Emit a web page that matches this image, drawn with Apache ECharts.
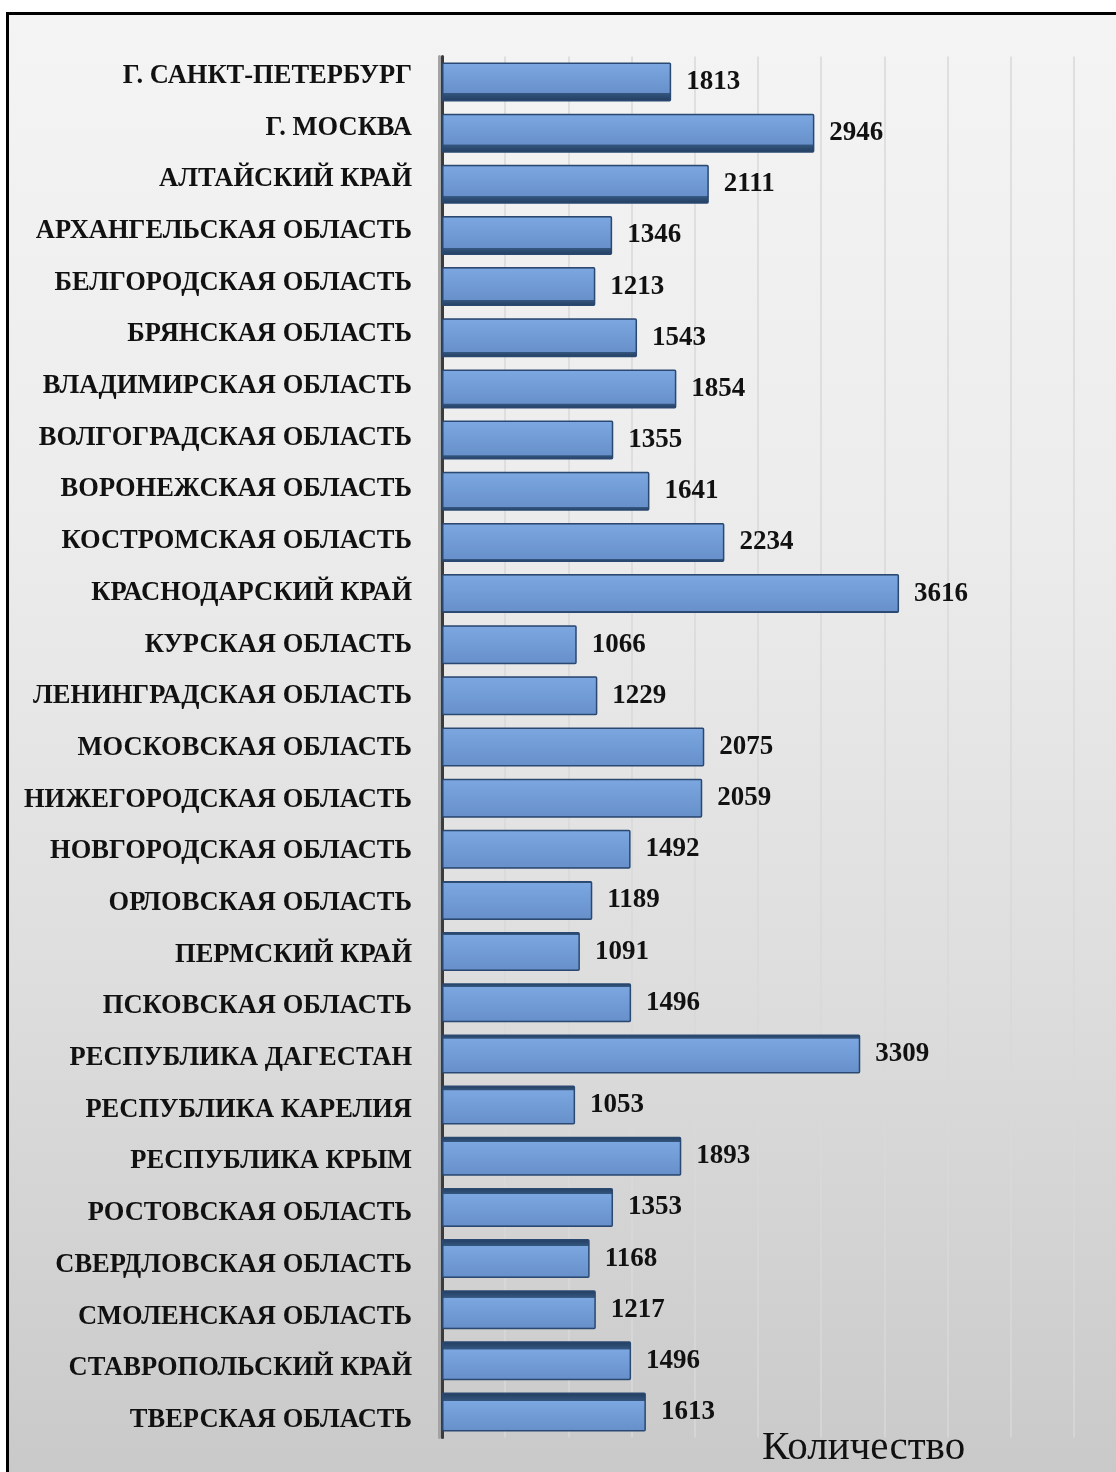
<!DOCTYPE html>
<html>
<head>
<meta charset="utf-8">
<script src="https://cdn.jsdelivr.net/npm/echarts@6/dist/echarts.min.js"></script>
<style>
  html, body { margin: 0; padding: 0; background: #ffffff; }
  #bg { position: absolute; left: 6px; top: 12px; width: 1120px; height: 1470px;
        border: 3px solid #000; box-sizing: border-box;
        background: linear-gradient(to bottom, #f4f4f4 0%, #ececec 35%, #dedede 65%, #c9c9c9 100%); }
  #chart { position: absolute; left: 0; top: 0; width: 1116px; height: 1472px; }
</style>
</head>
<body>
<div id="bg"></div>
<div id="chart"></div>
<script>
const categories = [
  'Г. САНКТ-ПЕТЕРБУРГ', 'Г. МОСКВА', 'АЛТАЙСКИЙ КРАЙ', 'АРХАНГЕЛЬСКАЯ ОБЛАСТЬ',
  'БЕЛГОРОДСКАЯ ОБЛАСТЬ', 'БРЯНСКАЯ ОБЛАСТЬ', 'ВЛАДИМИРСКАЯ ОБЛАСТЬ', 'ВОЛГОГРАДСКАЯ ОБЛАСТЬ',
  'ВОРОНЕЖСКАЯ ОБЛАСТЬ', 'КОСТРОМСКАЯ ОБЛАСТЬ', 'КРАСНОДАРСКИЙ КРАЙ', 'КУРСКАЯ ОБЛАСТЬ',
  'ЛЕНИНГРАДСКАЯ ОБЛАСТЬ', 'МОСКОВСКАЯ ОБЛАСТЬ', 'НИЖЕГОРОДСКАЯ ОБЛАСТЬ', 'НОВГОРОДСКАЯ ОБЛАСТЬ',
  'ОРЛОВСКАЯ ОБЛАСТЬ', 'ПЕРМСКИЙ КРАЙ', 'ПСКОВСКАЯ ОБЛАСТЬ', 'РЕСПУБЛИКА ДАГЕСТАН',
  'РЕСПУБЛИКА КАРЕЛИЯ', 'РЕСПУБЛИКА КРЫМ', 'РОСТОВСКАЯ ОБЛАСТЬ', 'СВЕРДЛОВСКАЯ ОБЛАСТЬ',
  'СМОЛЕНСКАЯ ОБЛАСТЬ', 'СТАВРОПОЛЬСКИЙ КРАЙ', 'ТВЕРСКАЯ ОБЛАСТЬ'
];
const values = [
  1813, 2946, 2111, 1346, 1213, 1543, 1854, 1355, 1641, 2234, 3616, 1066, 1229, 2075,
  2059, 1492, 1189, 1091, 1496, 3309, 1053, 1893, 1353, 1168, 1217, 1496, 1613
];
const axisName = 'Количество';
const axisMin = 0, axisMax = 5000, axisInterval = 500;

// 3D-like shading: top bars show their under-side, bottom bars show their top side
function barGradient(i, n) {
  const mid = (n - 1) / 2;
  const d = (i - mid) / mid;
  const f = Math.abs(d) * 0.22;
  const face1 = '#7ba6df', face2 = '#6891cc', dark1 = '#34567f', dark2 = '#223c5e', edge = '#3a5a86';
  let stops;
  if (d < 0) {
    stops = [
      { offset: 0, color: edge }, { offset: 0.05, color: face1 },
      { offset: Math.max(0.06, 1 - f - 0.01), color: face2 },
      { offset: 1 - f, color: dark1 }, { offset: 1, color: dark2 }
    ];
  } else {
    stops = [
      { offset: 0, color: dark2 }, { offset: f, color: dark1 },
      { offset: Math.min(0.94, f + 0.01), color: face1 },
      { offset: 0.95, color: face2 }, { offset: 1, color: edge }
    ];
  }
  return { type: 'linear', x: 0, y: 0, x2: 0, y2: 1, colorStops: stops };
}

const seriesData = values.map((v, i) => ({
  value: v,
  itemStyle: { color: barGradient(i, values.length) }
}));

const serif = '"Liberation Serif", "DejaVu Serif", serif';
const chart = echarts.init(document.getElementById('chart'), null, { renderer: 'canvas' });
chart.setOption({
  backgroundColor: 'transparent',
  animation: false,
  grid: [
    { left: 442, right: 42, top: 56.4, bottom: 34.4, containLabel: false },
    // label band (perspective spreads labels slightly more than the bars)
    { left: 442, right: 42, top: 50.2, bottom: 26.1, containLabel: false }
  ],
  xAxis: [{
    type: 'value', gridIndex: 0, min: axisMin, max: axisMax, interval: axisInterval,
    axisLabel: { show: false }, axisTick: { show: false }, axisLine: { show: false },
    splitLine: { show: true, lineStyle: { color: '#d9d9d9', width: 1.5 } }
  }, {
    type: 'value', gridIndex: 1, min: axisMin, max: axisMax, show: false,
    splitLine: { show: false }
  }],
  yAxis: [{
    type: 'category', gridIndex: 0, data: categories, inverse: true, offset: 6,
    axisTick: { show: false }, axisLabel: { show: false },
    axisLine: { show: true, lineStyle: { color: '#3b3b3b', width: 3 } }
  }, {
    type: 'category', gridIndex: 0, data: categories, inverse: true, position: 'left', offset: 2.5,
    axisTick: { show: false }, axisLabel: { show: false },
    axisLine: { show: true, lineStyle: { color: '#a3a3a3', width: 3 } }
  }, {
    type: 'category', gridIndex: 1, data: categories, inverse: true, offset: 6,
    axisTick: { show: false }, axisLine: { show: false },
    axisLabel: {
      margin: 24, color: '#111', fontFamily: serif,
      fontWeight: 'bold', fontSize: 26.5
    }
  }],
  series: [{
    type: 'bar', data: seriesData, barWidth: 39, xAxisIndex: 0, yAxisIndex: 0,
    itemStyle: { borderColor: '#2a4870', borderWidth: 1.5, borderRadius: 1 },
    label: {
      show: true, position: 'right', distance: 15, color: '#111',
      fontFamily: serif, fontWeight: 'bold', fontSize: 27, padding: [4, 0, 0, 0]
    }
  }],
  graphic: [{
    type: 'text', left: 762, top: 1428,
    style: { text: axisName, fill: '#111', font: '41px "Liberation Serif", serif' }
  }]
});
</script>
</body>
</html>
